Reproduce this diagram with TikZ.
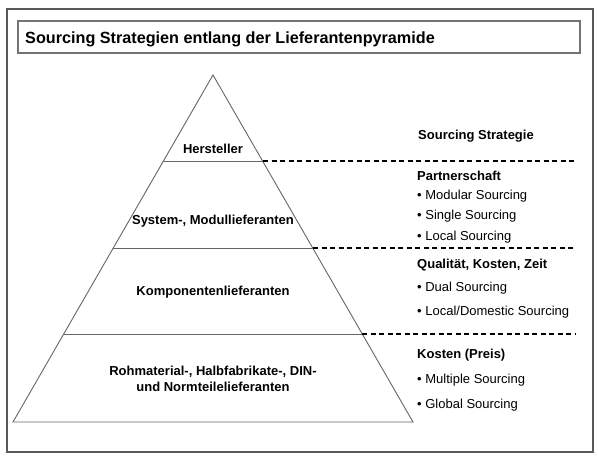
\documentclass[tikz,border=0pt]{standalone}
\usepackage{fontspec}
\setmainfont{Liberation Sans}
\begin{document}
\begin{tikzpicture}[x=1pt,y=-1pt,
  frame/.style={draw=black!65,line width=1.2pt},
  pyr/.style={draw=black!60,line width=0.9pt},
  sep/.style={draw=black,line width=1.6pt,dash pattern=on 5pt off 3.5pt},
  lbl/.style={font=\bfseries\fontsize{13}{15.5}\selectfont,inner sep=0pt,align=center},
  itm/.style={font=\fontsize{13}{15.5}\selectfont,inner sep=0pt,anchor=base west},
  hd/.style={font=\bfseries\fontsize{13}{15.5}\selectfont,inner sep=0pt,anchor=base west}]
\useasboundingbox (0,0) rectangle (598,461);
\fill[white] (0,0) rectangle (598,461);
\draw[frame] (7,9) rectangle (593,452);
\draw[frame,draw=black!55] (18,21) rectangle (580,53);
\node[font=\bfseries\fontsize{16.2}{19}\selectfont,inner sep=0pt,anchor=base west] (title) at (25,43) {Sourcing Strategien entlang der Lieferantenpyramide};
% pyramid
\coordinate (apex) at (213,75);
\coordinate (bl) at (13,422);
\coordinate (br) at (413,422);
\coordinate (l1) at (163,161); \coordinate (r1) at (263,161);
\coordinate (l2) at (113,248); \coordinate (r2) at (313,248);
\coordinate (l3) at (64,334); \coordinate (r3) at (362,334);
\draw[pyr] (apex) -- (bl) -- (br) -- cycle;
\draw[pyr] (l1) -- (r1);
\draw[pyr] (l2) -- (r2);
\draw[pyr] (l3) -- (r3);
\coordinate (e1) at (575,161);
\coordinate (e2) at (575,248);
\coordinate (e3) at (575,334);
\draw[sep] (r1) -- (e1);
\draw[sep] (r2) -- (e2);
\draw[sep] (r3) -- (e3);
\node[lbl] (hers) at (213,149) {Hersteller};
\node[lbl] (sys) at (213,221) {System-, Modullieferanten};
\node[lbl] (komp) at (213,292) {Komponentenlieferanten};
\node[lbl] (roh) at (213,379) {Rohmaterial-, Halbfabrikate-, DIN-\\und Normteilelieferanten};
% right
\node[lbl] (ss) at (476,136) {Sourcing Strategie};
\node[hd] (p) at (417,180) {Partnerschaft};
\node[itm] (p1) at (417,199) {• Modular Sourcing};
\node[itm] (p2) at (417,219) {• Single Sourcing};
\node[itm] (p3) at (417,240) {• Local Sourcing};
\node[hd] (q) at (417,268) {Qualität, Kosten, Zeit};
\node[itm] (q1) at (417,291) {• Dual Sourcing};
\node[itm] (q2) at (417,315) {• Local/Domestic Sourcing};
\node[hd] (k) at (417,358) {Kosten (Preis)};
\node[itm] (k1) at (417,383) {• Multiple Sourcing};
\node[itm] (k2) at (417,408) {• Global Sourcing};
\end{tikzpicture}
\end{document}
